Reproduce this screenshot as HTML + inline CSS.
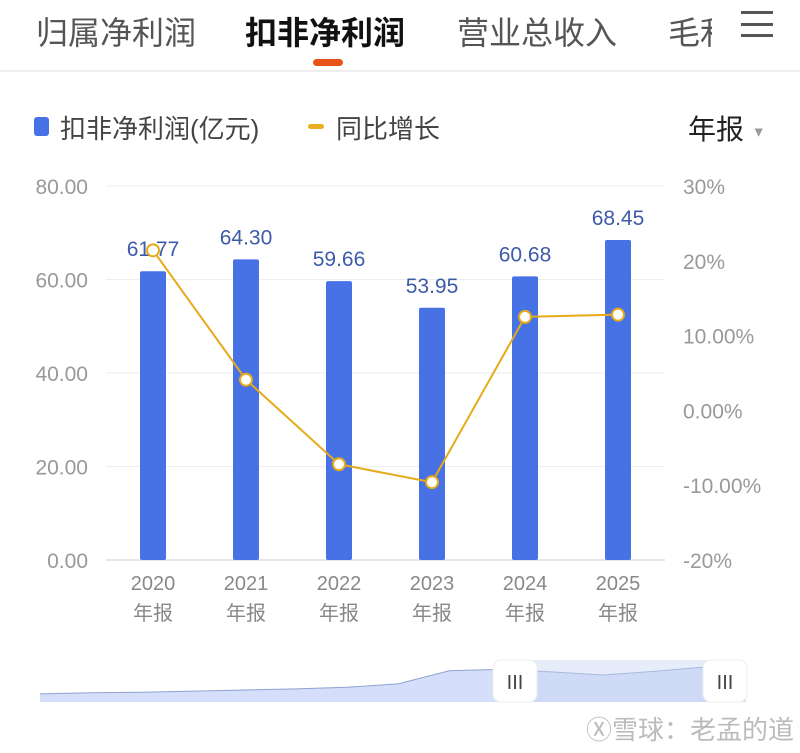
<!DOCTYPE html>
<html><head><meta charset="utf-8"><style>
body{margin:0;width:800px;height:753px;background:#fff;overflow:hidden;font-family:"Liberation Sans","Noto Sans CJK SC",sans-serif;position:relative}
.tab{position:absolute;top:8px;font-size:32px;color:#555}
</style></head><body>
<div style="position:absolute;left:0;top:0;width:800px;height:70px;border-bottom:2px solid #eee">
<div class="tab" style="left:36px">归属净利润</div>
<div class="tab" style="left:245px;color:#111;font-weight:bold">扣非净利润</div>
<div class="tab" style="left:457px">营业总收入</div>
<div class="tab" style="left:668px;width:44px;overflow:hidden;white-space:nowrap">毛利率</div>
<div style="position:absolute;left:313px;top:59px;width:30px;height:7px;border-radius:4px;background:#e8541c"></div>
<div style="position:absolute;left:741px;top:11px;width:32px;height:26px;border-top:3px solid #555;border-bottom:3px solid #555;box-sizing:border-box"><div style="margin-top:8.5px;height:3px;background:#555"></div></div>
</div>
<div style="position:absolute;left:34px;top:117px;width:15px;height:19px;border-radius:3px;background:#4672e6"></div>
<div style="position:absolute;left:60px;top:109px;font-size:26px;color:#444">扣非净利润(亿元)</div>
<div style="position:absolute;left:308px;top:124px;width:16px;height:5px;border-radius:3px;background:#e8b020"></div>
<div style="position:absolute;left:336px;top:109px;font-size:26px;color:#444">同比增长</div>
<div style="position:absolute;left:688px;top:108px;font-size:28px;color:#222">年报 <span style="font-size:14px;color:#999;vertical-align:middle">▼</span></div>
<svg id="chart" width="800" height="753" style="position:absolute;left:0;top:0"></svg>
<div style="position:absolute;left:586px;top:710px;font-size:26px;color:#bbb">Ⓧ雪球：老孟的道</div>
<script>
const categories=["2020","2021","2022","2023","2024","2025"];
const profit=[61.77,64.30,59.66,53.95,60.68,68.45];
const growth=[21.4,4.1,-7.2,-9.6,12.5,12.8];
const leftTicks=[0,20,40,60,80];
const rightTicks=[-20,-10,0,10,20,30];
const rightLabels=["-20%","-10.00%","0.00%","10.00%","20%","30%"];
const sliderHistory=[20,22,23,25,27,29,32,38];
const svg=document.getElementById('chart');const NS='http://www.w3.org/2000/svg';
function mk(t,a,txt){const e=document.createElementNS(NS,t);for(const k in a)e.setAttribute(k,a[k]);if(txt!=null)e.textContent=txt;svg.appendChild(e);return e;}
const x0=106.5,bw=93,yb=560,yt=186;
const yL=v=>yb-(v/80)*(yb-yt);
const yR=v=>yb-((v+20)/50)*(yb-yt);
const xc=i=>x0+bw*(i+0.5);
leftTicks.forEach(v=>{let g=mk('line',{x1:106,x2:665,y1:yL(v),y2:yL(v),stroke:v===0?'#ccc':'#eee','stroke-width':1});
let t=mk('text',{x:88,y:yL(v)+8,'text-anchor':'end','font-size':21,fill:'#999'},v.toFixed(2));});
rightTicks.forEach((v,i)=>{let t=mk('text',{x:683,y:yR(v)+8,'font-size':21,fill:'#999'},rightLabels[i]);});
categories.forEach((c,i)=>{
let r=mk('rect',{x:xc(i)-13,y:yL(profit[i]),width:26,height:yb-yL(profit[i]),fill:'#4672e6',rx:2});
let v=mk('text',{x:xc(i),y:yL(profit[i])-15,'text-anchor':'middle','font-size':21,fill:'#3d5ba8'},profit[i].toFixed(2));
let a=mk('text',{x:xc(i),y:590,'text-anchor':'middle','font-size':20,fill:'#888'},c);
let b=mk('text',{x:xc(i),y:620,'text-anchor':'middle','font-size':20,fill:'#888'},'年报');
});
let pl=mk('polyline',{points:growth.map((g,i)=>xc(i)+','+yR(g)).join(' '),fill:'none',stroke:'#e6aa1a','stroke-width':2});
growth.forEach((g,i)=>{let c=mk('circle',{cx:xc(i),cy:yR(g),r:6,fill:'#fff',stroke:'#e6aa1a','stroke-width':2});});
// data zoom slider
const sx0=40,sx1=746,sy0=660,sy1=702;
const sAll=sliderHistory.concat(profit);
const sxs=i=>sx0+(705-sx0)*i/(sAll.length-1);
const sv=v=>705-v*0.555;
let pts=sAll.map((v,i)=>sxs(i)+','+sv(v));
let area=mk('path',{d:'M'+sx0+','+sy1+' L'+pts.join(' L')+' L'+sx1+','+sv(profit[profit.length-1])+' L'+sx1+','+sy1+'Z',fill:'#d5defa',stroke:'none'});

let sl=mk('polyline',{points:pts.join(' '),fill:'none',stroke:'#8fa3cf','stroke-width':1});
let sel=mk('rect',{x:515,y:sy0,width:210,height:sy1-sy0,fill:'rgba(200,212,245,0.45)'});
[515,725].forEach((hx,k)=>{let h=mk('rect',{x:hx-22,y:sy0,width:44,height:42,rx:8,fill:'#fff',stroke:'#eee'});
let t=mk('text',{x:hx,y:sy0+29,'text-anchor':'middle','font-size':20,fill:'#444'},'III');});
</script>
</body></html>
